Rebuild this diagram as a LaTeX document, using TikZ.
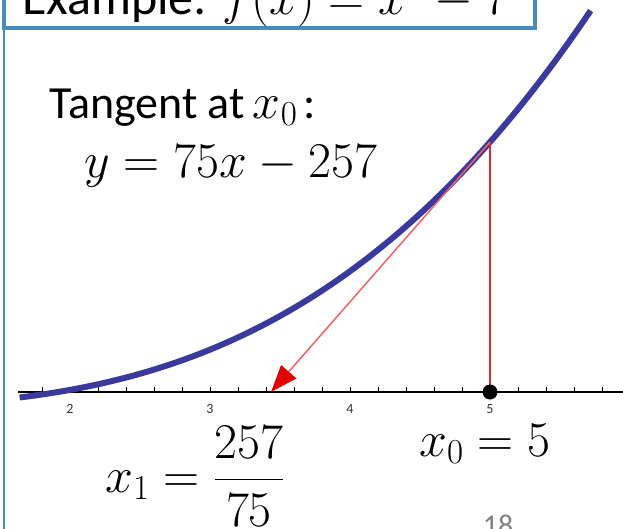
\RequirePackage{fix-cm}
\documentclass[tikz,border=0pt]{standalone}
\usepackage{amsmath}
\usepackage[no-math]{fontspec}
\setmainfont{Carlito}
\usetikzlibrary{arrows.meta}
\definecolor{frameblue}{RGB}{72,140,186}
\definecolor{curveblue}{RGB}{58,58,158}
\definecolor{tanred}{RGB}{242,100,100}
\definecolor{vred}{RGB}{226,40,48}
\newcommand{\mathbig}{\fontsize{50}{56}\selectfont}
\tikzset{
  lbl/.style={anchor=base west, inner sep=0pt, font=\fontsize{46}{52}\selectfont},
  mlbl/.style={anchor=base west, inner sep=0pt, font=\mathbig},
  ticklbl/.style={font=\fontsize{14}{16}\selectfont\rmfamily, text=black!80, inner sep=0pt},
}
\begin{document}
\begin{tikzpicture}[x=1pt,y=-1pt]
\useasboundingbox (0,0) rectangle (623,528);
\begin{scope}
\clip (0,0) rectangle (623,528);
% frame
\draw[frameblue, line width=4pt] (4,-20) rectangle (535,28);
\draw[frameblue, line width=2.5pt] (4,28) -- (4,540);
\node[anchor=base west, inner sep=0pt, font=\fontsize{50}{56}\selectfont] (title) at (22,14) {Example: $f(x)=x^3-7$};
% axis
\coordinate (AL) at (18,392);
\coordinate (AR) at (623,392);
\draw[black, line width=1.3pt] (AL) -- (AR);
\foreach \k in {0,...,20} {
  \draw[black, line width=1pt] ({42+\k*28},392) -- ({42+\k*28},387);
}
\foreach \n/\px in {2/70,3/210,4/350,5/490} {
  \node[ticklbl] (t\n) at (\px,409) {\n};
}
% curve
\draw[curveblue, line width=6pt] plot[domain=1.64:5.72, samples=100] ({70+(\x-2)*140},{392-2.1186*(\x*\x*\x-7)});
% tangent and vertical
\coordinate (P0) at (490,142);
\coordinate (X0) at (490,392);
\coordinate (X1) at (271,392);
\draw[vred, line width=1.5pt] (X0) -- (P0);
\draw[tanred, line width=1.5pt, -{Triangle[length=27pt,width=20pt,fill=red!90!black,color=red!90!black]}] (P0) -- (X1);
\fill[black] (X0) circle (7.5);
% labels
\node[lbl] (tan) at (49,118) {Tangent at\hspace{8pt}{\mathbig$x_0$}\hspace{6pt}:};
\node[mlbl] (eq) at (84,177) {$y=75x-257$};
\node[mlbl] (x1) at (105,492) {$x_1=\dfrac{257}{75}$};
\node[mlbl] (x0) at (419,456) {$x_0=5$};
\node[anchor=base, inner sep=0pt, font=\fontsize{30}{34}\selectfont, text=black!50] (pg) at (498,535) {18};
\end{scope}
\end{tikzpicture}
\end{document}
